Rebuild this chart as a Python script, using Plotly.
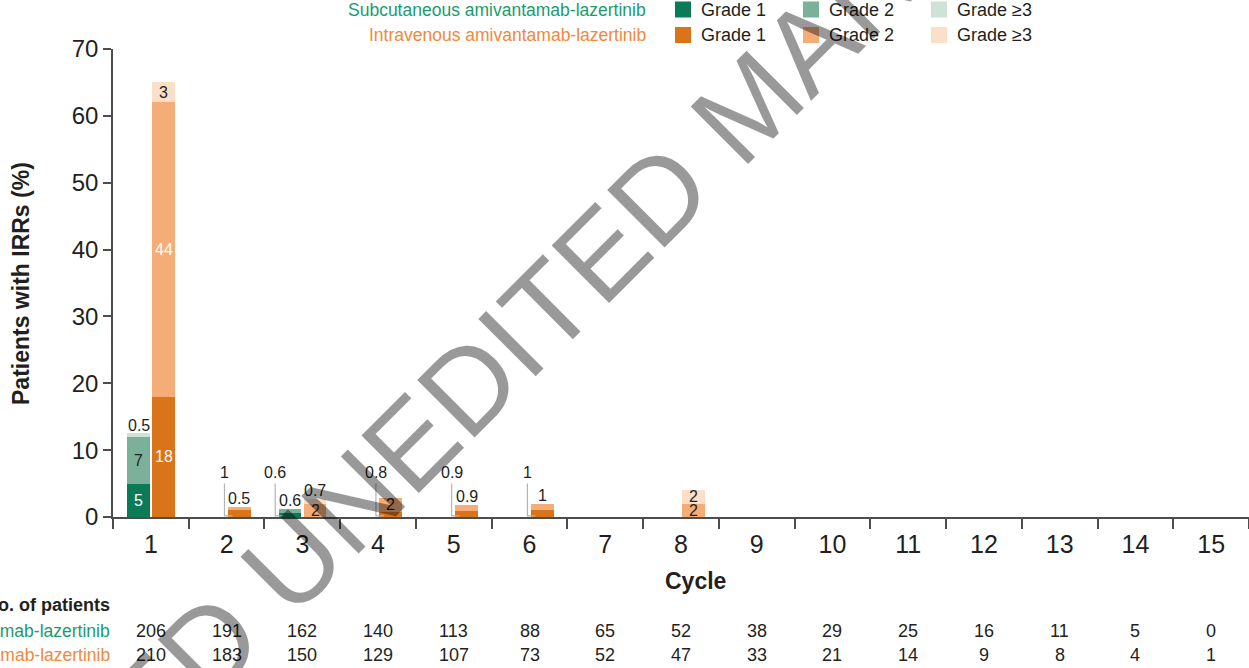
import plotly.graph_objects as go

# ---- data -------------------------------------------------------------
cycles = [str(c) for c in range(1, 16)]

# Patients with IRRs (%), by grade, per treatment cycle
sc_grade1 = [5, 0, 0.6, 0, 0, 0, 0, 0, 0, 0, 0, 0, 0, 0, 0]
sc_grade2 = [7, 0, 0.6, 0, 0, 0, 0, 0, 0, 0, 0, 0, 0, 0, 0]
sc_grade3 = [0.5, 0, 0, 0, 0, 0, 0, 0, 0, 0, 0, 0, 0, 0, 0]
iv_grade1 = [18, 1, 0, 0.8, 0.9, 1, 0, 0, 0, 0, 0, 0, 0, 0, 0]
iv_grade2 = [44, 0.5, 2, 2, 0.9, 1, 0, 2, 0, 0, 0, 0, 0, 0, 0]
iv_grade3 = [3, 0, 0.7, 0, 0, 0, 0, 2, 0, 0, 0, 0, 0, 0, 0]

# Number of patients at risk per cycle
n_sc = [206, 191, 162, 140, 113, 88, 65, 52, 38, 29, 25, 16, 11, 5, 0]
n_iv = [210, 183, 150, 129, 107, 73, 52, 47, 33, 21, 14, 9, 8, 4, 1]

arm_labels = ["Subcutaneous amivantamab-lazertinib",
              "Intravenous amivantamab-lazertinib"]
grade_labels = ["Grade 1", "Grade 2", "Grade \u22653"]

# ---- styling ------------------------------------------------------------
W, H = 1249, 668
ML, MR, MT, MB = 113, 0, 49, 151
PW, PH = W - ML - MR, H - MT - MB
FONT = "Liberation Sans, Arial, Helvetica, sans-serif"
INK = "#231f20"
sc_colors = ["#0b7a57", "#7bb09a", "#cfe2d8"]
iv_colors = ["#d9741b", "#f5ad78", "#fbdfc9"]
arm_text_colors = ["#1b9b6e", "#f0893c"]
bar_width = 0.30
arm_offsets = [-0.312, 0.018]
YMAX = 70


def px_x(p):
    return (p - ML) / PW


def px_y(p):
    return (H - MB - p) / PH


def px_to_units(p):
    return p * YMAX / PH


arms = [
    (arm_labels[0], [sc_grade1, sc_grade2, sc_grade3], sc_colors, arm_offsets[0]),
    (arm_labels[1], [iv_grade1, iv_grade2, iv_grade3], iv_colors, arm_offsets[1]),
]

fig = go.Figure()
annotations = []
shapes = []

for arm_name, grades, colors, off in arms:
    base = [0.0] * len(cycles)
    for g, (vals, col) in enumerate(zip(grades, colors)):
        fig.add_trace(go.Bar(
            x=cycles, y=vals, base=list(base), offset=off, width=bar_width,
            marker=dict(color=col, line=dict(width=0)),
            name=f"{arm_name} \u2013 {grade_labels[g]}", showlegend=False,
            hoverinfo="skip",
        ))
        base = [b + v for b, v in zip(base, vals)]

    # value labels
    for i in range(len(cycles)):
        seg = [grades[g][i] for g in range(3)]
        nz = [g for g in range(3) if seg[g] > 0]
        if not nz:
            continue
        top_g = nz[-1]
        bottom = 0.0
        for g in range(3):
            v = seg[g]
            if v <= 0:
                continue
            xc = i + off + bar_width / 2
            txt = f"{v:g}"
            if v >= 1.8:
                color = "white" if (g == 0 or v >= 10) else INK
                annotations.append(dict(
                    x=xc, y=bottom + v / 2, xref="x", yref="y", text=txt,
                    showarrow=False, font=dict(size=16, color=color, family=FONT),
                    xanchor="center", yanchor="middle"))
            elif g == top_g:
                annotations.append(dict(
                    x=xc, y=bottom + v, xref="x", yref="y", text=txt,
                    showarrow=False, font=dict(size=16, color=INK, family=FONT),
                    xanchor="center", yanchor="middle", yshift=8))
            else:
                # small lower segment: label with a bracket leader
                bx = i + off - 3.5 / (PW / len(cycles))
                shapes.append(dict(
                    type="path", xref="x", yref="y",
                    path=(f"M {bx},5.0 L {bx},{px_to_units(1.2)} "
                          f"L {i + off + 0.06},{px_to_units(1.2)}"),
                    line=dict(color="#b4b4b4", width=1.2)))
                annotations.append(dict(
                    x=bx, y=6.7, xref="x", yref="y", text=txt,
                    showarrow=False, font=dict(size=16, color=INK, family=FONT),
                    xanchor="center", yanchor="middle"))
            bottom += v

# ---- legend (two rows, one per arm) -------------------------------------
legend_rows = [9.5, 35]
swatch_x = [675, 803, 931]
for r, (arm_name, grades, colors, off) in enumerate(arms):
    cy = legend_rows[r]
    annotations.append(dict(
        x=px_x(648), y=px_y(cy), xref="paper", yref="paper", text=arm_name,
        showarrow=False, xanchor="right", yanchor="middle",
        font=dict(size=17.5, color=arm_text_colors[r], family=FONT)))
    for g in range(3):
        sx = swatch_x[g]
        shapes.append(dict(
            type="rect", xref="paper", yref="paper",
            x0=px_x(sx), x1=px_x(sx + 16), y0=px_y(cy - 8), y1=px_y(cy + 8),
            fillcolor=colors[g], line=dict(width=0), layer="above"))
        annotations.append(dict(
            x=px_x(sx + 24), y=px_y(cy), xref="paper", yref="paper",
            text=grade_labels[g], showarrow=False, xanchor="left",
            yanchor="middle", font=dict(size=18, color=INK, family=FONT)))

# ---- axis titles ----------------------------------------------------------
annotations.append(dict(
    x=px_x(21), y=px_y(284), xref="paper", yref="paper",
    text="<b>Patients with IRRs (%)</b>", textangle=-90, showarrow=False,
    xanchor="center", yanchor="middle", font=dict(size=23, color=INK, family=FONT)))
annotations.append(dict(
    x=px_x(695), y=px_y(581), xref="paper", yref="paper",
    text="<b>Cycle</b>", showarrow=False, xanchor="center", yanchor="middle",
    font=dict(size=23, color=INK, family=FONT)))

# ---- number at risk table ---------------------------------------------------
annotations.append(dict(
    x=px_x(112), y=px_y(605), xref="paper", yref="paper",
    text="<b>No. of patients</b>", showarrow=False, xanchor="right",
    yanchor="middle", font=dict(size=18, color=INK, family=FONT)))
for r, (counts, py) in enumerate([(n_sc, 631), (n_iv, 655)]):
    annotations.append(dict(
        x=px_x(112), y=px_y(py), xref="paper", yref="paper",
        text=arm_labels[r], showarrow=False, xanchor="right", yanchor="middle",
        font=dict(size=17.5, color=arm_text_colors[r], family=FONT)))
    for i, n in enumerate(counts):
        annotations.append(dict(
            x=i, y=px_y(py), xref="x", yref="paper", text=str(n),
            showarrow=False, xanchor="center", yanchor="middle",
            font=dict(size=18, color=INK, family=FONT)))

# ---- watermark ----------------------------------------------------------------
annotations.append(dict(
    x=px_x(524), y=px_y(330), xref="paper", yref="paper",
    text="ACCEPTED UNEDITED MANUSCRIPT", textangle=-45, showarrow=False,
    xanchor="center", yanchor="middle",
    font=dict(size=118, color="rgba(0,0,0,0.4)", family=FONT)))

fig.update_layout(
    width=W, height=H,
    margin=dict(l=ML, r=MR, t=MT, b=MB, autoexpand=False),
    paper_bgcolor="white", plot_bgcolor="white",
    barmode="overlay", bargap=0,
    showlegend=False,
    font=dict(family=FONT, color=INK),
    annotations=annotations, shapes=shapes,
    xaxis=dict(
        type="category", categoryorder="array", categoryarray=cycles,
        range=[-0.5, len(cycles) - 0.5], tickson="boundaries",
        ticks="outside", ticklen=10, tickwidth=1.5, tickcolor="#4d4d4d",
        ticklabelstandoff=4,
        showline=True, linecolor="#4d4d4d", linewidth=1.5,
        showgrid=False, zeroline=False,
        tickfont=dict(size=25, color=INK, family=FONT),
    ),
    yaxis=dict(
        range=[0, YMAX], tickvals=list(range(0, 71, 10)),
        ticks="outside", ticklen=8, tickwidth=1.5, tickcolor="#4d4d4d",
        showline=True, linecolor="#4d4d4d", linewidth=1.5,
        showgrid=False, zeroline=False,
        tickfont=dict(size=24, color=INK, family=FONT),
    ),
)

fig.write_html("out.html")
